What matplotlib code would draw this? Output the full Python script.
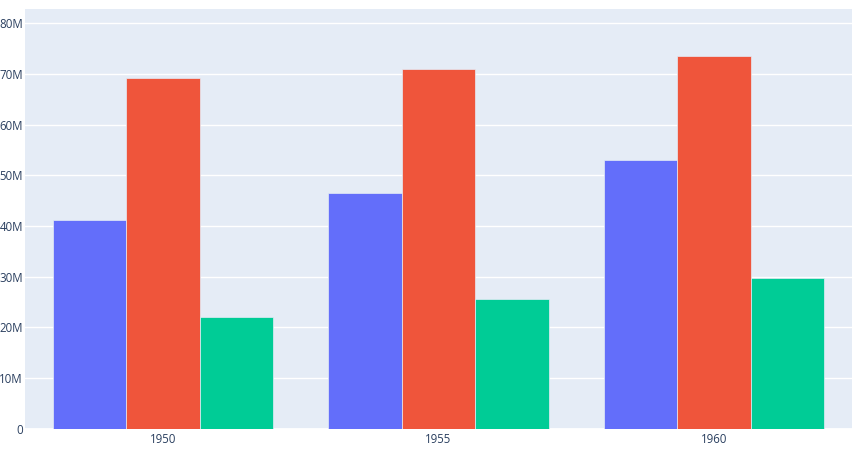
import matplotlib
matplotlib.use("Agg")
import matplotlib.pyplot as plt
import numpy as np

years = ["1950", "1955", "1960"]
series_a = [41.2e6, 46.5e6, 53.1e6]
series_b = [69.1e6, 70.9e6, 73.6e6]
series_c = [22.1e6, 25.6e6, 29.7e6]
colors = ["#636EFA", "#EF553B", "#00CC96"]
yticks = [0, 10e6, 20e6, 30e6, 40e6, 50e6, 60e6, 70e6, 80e6]
ytick_labels = ["0", "10M", "20M", "30M", "40M", "50M", "60M", "70M", "80M"]

fig = plt.figure(figsize=(8.52, 4.5), dpi=100)
W, H = 852, 450
left, right, top, bottom = 25, 852, 9, 428.6
ax = fig.add_axes([left / W, (H - bottom) / H, (right - left) / W, (bottom - top) / H])
ax.set_facecolor("#E5ECF6")

x = np.arange(len(years))
bw = 0.8 / 3
for i, (vals, c) in enumerate(zip([series_a, series_b, series_c], colors)):
    ax.bar(x + (i - 1) * bw, vals, width=bw, color=c, edgecolor="#E5ECF6",
           linewidth=0.5, zorder=3)

ax.set_xlim(-0.5, 2.5)
ax.set_ylim(0, 82.8e6)
ax.set_yticks(yticks)
ax.set_yticklabels(ytick_labels)
ax.set_xticks(x)
ax.set_xticklabels(years)
ax.grid(axis="y", color="white", linewidth=1, zorder=0)
ax.axhline(0, color="white", linewidth=2, zorder=2)
for s in ax.spines.values():
    s.set_visible(False)
ax.tick_params(axis="both", length=0, labelsize=8.3, labelcolor="#2a3f5f")
ax.tick_params(axis="y", pad=1.5)
ax.tick_params(axis="x", pad=3)
for lab in ax.get_yticklabels() + ax.get_xticklabels():
    lab.set_fontfamily(["Open Sans", "DejaVu Sans"])

fig.savefig("out.png", dpi=100)
